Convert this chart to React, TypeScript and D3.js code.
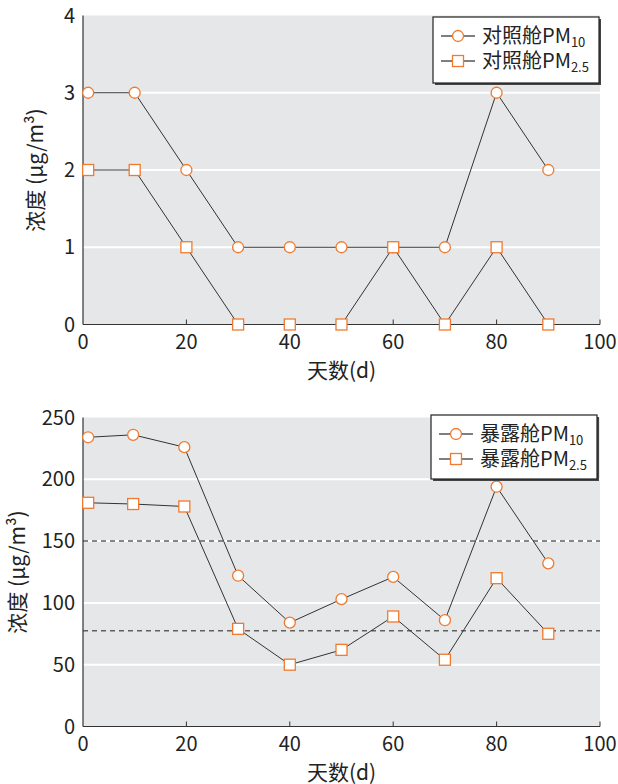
import React, { useEffect, useRef } from "react";
import * as d3 from "d3";

const FONT = "'Noto Sans CJK SC', 'Noto Sans', sans-serif";

const daysTop = [1, 10, 20, 30, 40, 50, 60, 70, 80, 90];
const controlPM10 = [3, 3, 2, 1, 1, 1, 1, 1, 3, 2];
const controlPM25 = [2, 2, 1, 0, 0, 0, 1, 0, 1, 0];

const daysBottom = [1, 9.7, 19.6, 30, 40, 50, 60, 70, 80, 90];
const exposedPM10 = [234, 236, 226, 122, 84, 103, 121, 86, 194, 132];
const exposedPM25 = [181, 180, 178, 79, 50, 62, 89, 54, 120, 75];

const xTicks = [0, 20, 40, 60, 80, 100];
const yTicksTop = [0, 1, 2, 3, 4];
const yTicksBottom = [0, 50, 100, 150, 200, 250];
const limitLines = [150, 77.5];

const ORANGE = "#f07a30";

function drawPanel(svg, opt) {
  var g = svg.append("g");
  var x = d3.scaleLinear().domain([0, 100]).range([opt.left, opt.right]);
  var y = d3.scaleLinear().domain(opt.yDomain).range([opt.bottom, opt.top]);

  g.append("rect")
    .attr("x", opt.left)
    .attr("y", opt.top)
    .attr("width", opt.right - opt.left)
    .attr("height", opt.bottom - opt.top)
    .attr("fill", "#e6e7e9");

  // white grid
  g.selectAll(".grid")
    .data(opt.yTicks.filter((t) => t > opt.yDomain[0] && t < opt.yDomain[1]))
    .enter()
    .append("line")
    .attr("x1", opt.left)
    .attr("x2", opt.right)
    .attr("y1", (d) => y(d))
    .attr("y2", (d) => y(d))
    .attr("stroke", "#ffffff")
    .attr("stroke-width", 2);

  (opt.dashed || []).forEach((v) => {
    g.append("line")
      .attr("x1", opt.left)
      .attr("x2", opt.right)
      .attr("y1", y(v))
      .attr("y2", y(v))
      .attr("stroke", "#606060")
      .attr("stroke-width", 1.5)
      .attr("stroke-dasharray", "5,4");
  });

  // axes
  g.append("line")
    .attr("x1", opt.left)
    .attr("x2", opt.left)
    .attr("y1", opt.top)
    .attr("y2", opt.bottom)
    .attr("stroke", "#333")
    .attr("stroke-width", 1.2);
  g.append("line")
    .attr("x1", opt.left)
    .attr("x2", opt.right)
    .attr("y1", opt.bottom)
    .attr("y2", opt.bottom)
    .attr("stroke", "#333")
    .attr("stroke-width", 1.2);
  g.selectAll(".xt")
    .data(xTicks.slice(1))
    .enter()
    .append("line")
    .attr("x1", (d) => x(d))
    .attr("x2", (d) => x(d))
    .attr("y1", opt.bottom)
    .attr("y2", opt.bottom - 5)
    .attr("stroke", "#333")
    .attr("stroke-width", 1);

  g.selectAll(".xl")
    .data(xTicks)
    .enter()
    .append("text")
    .attr("x", (d) => x(d))
    .attr("y", opt.bottom + 24)
    .attr("text-anchor", "middle")
    .attr("font-family", FONT)
    .attr("font-size", 20)
    .attr("fill", "#222")
    .text((d) => d);

  g.selectAll(".yl")
    .data(opt.yTicks)
    .enter()
    .append("text")
    .attr("x", opt.left - 8)
    .attr("y", (d) => y(d) + 7)
    .attr("text-anchor", "end")
    .attr("font-family", FONT)
    .attr("font-size", 20)
    .attr("fill", "#222")
    .text((d) => d);

  g.append("text")
    .attr("x", (opt.left + opt.right) / 2)
    .attr("y", opt.bottom + 53)
    .attr("text-anchor", "middle")
    .attr("font-family", FONT)
    .attr("font-size", 21)
    .attr("fill", "#222")
    .text("天数(d)");

  g.append("text")
    .attr("transform", `translate(${opt.yLabelX},${(opt.top + opt.bottom) / 2}) rotate(-90)`)
    .attr("text-anchor", "middle")
    .attr("font-family", FONT)
    .attr("font-size", 21)
    .attr("fill", "#222")
    .text("浓度 (μg/m³)");

  var line = d3
    .line()
    .x((d) => x(d[0]))
    .y((d) => y(d[1]));

  var s10 = opt.days.map((d, i) => [d, opt.pm10[i]]);
  var s25 = opt.days.map((d, i) => [d, opt.pm25[i]]);

  [s10, s25].forEach((s) => {
    g.append("path")
      .datum(s)
      .attr("d", line)
      .attr("fill", "none")
      .attr("stroke", "#333")
      .attr("stroke-width", 1);
  });

  g.selectAll(".c")
    .data(s10)
    .enter()
    .append("circle")
    .attr("cx", (d) => x(d[0]))
    .attr("cy", (d) => y(d[1]))
    .attr("r", 5.5)
    .attr("fill", "#fff")
    .attr("stroke", ORANGE)
    .attr("stroke-width", 1.3);

  g.selectAll(".s")
    .data(s25)
    .enter()
    .append("rect")
    .attr("x", (d) => x(d[0]) - 5.5)
    .attr("y", (d) => y(d[1]) - 5.5)
    .attr("width", 11)
    .attr("height", 11)
    .attr("fill", "#fff")
    .attr("stroke", ORANGE)
    .attr("stroke-width", 1.3);

  // legend
  var L = opt.legend;
  g.append("rect")
    .attr("x", L.x + 2)
    .attr("y", L.y + 2)
    .attr("width", L.w)
    .attr("height", L.h)
    .attr("fill", "#444");
  g.append("rect")
    .attr("x", L.x)
    .attr("y", L.y)
    .attr("width", L.w)
    .attr("height", L.h)
    .attr("fill", "#fff")
    .attr("stroke", "#222")
    .attr("stroke-width", 1.2);

  [0, 1].forEach((i) => {
    var cy = L.y + 19 + i * 25;
    g.append("line")
      .attr("x1", L.x + 8)
      .attr("x2", L.x + 42)
      .attr("y1", cy)
      .attr("y2", cy)
      .attr("stroke", "#555")
      .attr("stroke-width", 1.3);
    if (i === 0) {
      g.append("circle")
        .attr("cx", L.x + 25)
        .attr("cy", cy)
        .attr("r", 5.5)
        .attr("fill", "#fff")
        .attr("stroke", ORANGE)
        .attr("stroke-width", 1.3);
    } else {
      g.append("rect")
        .attr("x", L.x + 25 - 5.5)
        .attr("y", cy - 5.5)
        .attr("width", 11)
        .attr("height", 11)
        .attr("fill", "#fff")
        .attr("stroke", ORANGE)
        .attr("stroke-width", 1.3);
    }
    var t = g
      .append("text")
      .attr("x", L.x + 49)
      .attr("y", cy + 7)
      .attr("font-family", FONT)
      .attr("font-size", 20)
      .attr("fill", "#222");
    t.append("tspan").text(opt.legendName + "PM");
    t.append("tspan")
      .attr("font-size", 13)
      .attr("dy", 4)
      .text(i === 0 ? "10" : "2.5");
  });
}

export default function App() {
  const ref = useRef(null);
  useEffect(() => {
    var svg = d3.select(ref.current);
    svg.selectAll("*").remove();
    drawPanel(svg, {
      left: 83,
      right: 600,
      top: 15.5,
      bottom: 324.5,
      yDomain: [0, 4],
      yTicks: yTicksTop,
      days: daysTop,
      pm10: controlPM10,
      pm25: controlPM25,
      yLabelX: 43,
      legendName: "对照舱",
      legend: { x: 433, y: 17, w: 166, h: 66 },
    });
    drawPanel(svg, {
      left: 83,
      right: 600,
      top: 417.5,
      bottom: 726.5,
      yDomain: [0, 250],
      yTicks: yTicksBottom,
      days: daysBottom,
      pm10: exposedPM10,
      pm25: exposedPM25,
      dashed: limitLines,
      yLabelX: 25,
      legendName: "暴露舱",
      legend: { x: 431, y: 415, w: 166, h: 64 },
    });
  }, []);
  return (
    <svg
      ref={ref}
      width={618}
      height={784}
      style={{ position: "absolute", left: 0, top: 0, background: "#fff" }}
    />
  );
}
